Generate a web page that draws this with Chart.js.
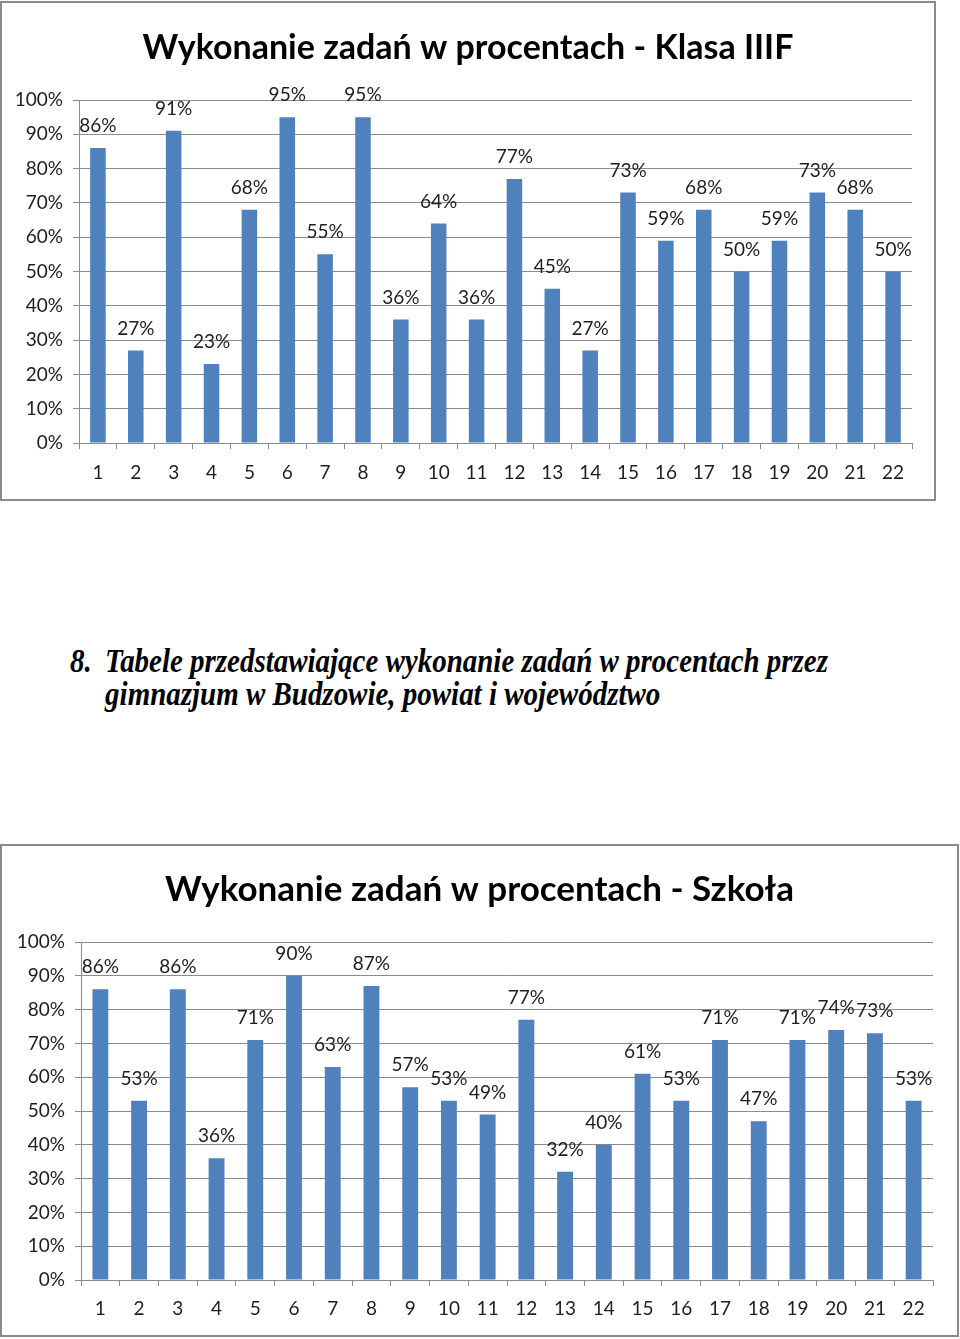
<!DOCTYPE html>
<html>
<head>
<meta charset="utf-8">
<script src="https://cdn.jsdelivr.net/npm/chart.js@4.4.1/dist/chart.umd.min.js"></script>
<style>
  body { margin: 0; background: #fff; width: 960px; height: 1339px; position: relative; overflow: hidden; }
  .box { position: absolute; border: 2px solid #8a8a8a; background: #fff; }
  .box canvas { display: block; }
  #opis { position: absolute; left: 70px; top: 645px; font-family: "Liberation Serif", "Times New Roman", serif;
          font-weight: bold; font-style: italic; font-size: 33px; line-height: 33px; color: #000; white-space: nowrap; }
  #opis .line { display: block; transform-origin: left center; }
  #opis .num { display: inline-block; width: 40px; }
</style>
</head>
<body>

<div class="box" style="left:0px; top:1px;">
  <canvas id="klasaChart" width="932" height="496"></canvas>
</div>

<div id="opis">
  <span class="line" id="l1"><span class="num">8.</span>Tabele przedstawiające wykonanie zadań w procentach przez</span>
  <span class="line" id="l2"><span class="num"></span>gimnazjum w Budzowie, powiat i województwo</span>
</div>

<div class="box" style="left:0px; top:844px;">
  <canvas id="szkolaChart" width="955" height="489"></canvas>
</div>

<script>
const zadania = ['1','2','3','4','5','6','7','8','9','10','11','12','13','14','15','16','17','18','19','20','21','22'];
const wynikiKlasa = [86, 27, 91, 23, 68, 95, 55, 95, 36, 64, 36, 77, 45, 27, 73, 59, 68, 50, 59, 73, 68, 50];
const wynikiSzkola = [86, 53, 86, 36, 71, 90, 63, 87, 57, 53, 49, 77, 32, 40, 61, 53, 71, 47, 71, 74, 73, 53];
const tytulKlasa = 'Wykonanie zadań w procentach - Klasa IIIF';
const tytulSzkola = 'Wykonanie zadań w procentach - Szkoła';

const kolorSlupka = '#4f81bd';
const kolorSiatki = '#8c8c8c';
const kolorTekstu = '#1e1e1e';

// etykiety z wartoscia nad slupkami
const etykietyWartosci = {
  id: 'etykietyWartosci',
  afterDatasetsDraw(chart) {
    const ctx = chart.ctx;
    const meta = chart.getDatasetMeta(0);
    ctx.save();
    ctx.font = '19px Lato';
    ctx.fillStyle = kolorTekstu;
    ctx.textAlign = 'center';
    ctx.textBaseline = 'middle';
    meta.data.forEach((bar, i) => {
      ctx.fillText(chart.data.datasets[0].data[i] + '%', bar.x, bar.y - 22);
    });
    ctx.restore();
  }
};

// tytul wysrodkowany na calym plotnie (jak w Excelu)
const tytulWykresu = {
  id: 'tytulWykresu',
  afterDraw(chart, args, opts) {
    const ctx = chart.ctx;
    ctx.save();
    ctx.font = 'bold ' + opts.size + 'px Lato';
    ctx.fillStyle = '#000';
    ctx.textAlign = 'center';
    ctx.textBaseline = 'middle';
    ctx.fillText(opts.text, chart.width / 2, opts.y);
    ctx.restore();
  }
};

function rysuj_wykres(id, tytul, dane, cfg) {
  const canvas = document.getElementById(id).getContext('2d');
  new Chart(canvas, {
    type: 'bar',
    data: {
      labels: zadania,
      datasets: [{
        data: dane,
        backgroundColor: kolorSlupka,
        borderWidth: 0,
        barPercentage: 0.41,
        categoryPercentage: 1.0
      }]
    },
    options: {
      responsive: false,
      animation: false,
      layout: { padding: { left: 0, right: cfg.prawo, top: cfg.gora, bottom: 0 } },
      plugins: {
        legend: { display: false },
        tooltip: { enabled: false },
        title: { display: false },
        tytulWykresu: { text: tytul, size: cfg.rozmiarTytulu, y: cfg.tytulY }
      },
      scales: {
        x: {
          offset: true,
          grid: { offset: true, drawOnChartArea: false, drawTicks: true, tickLength: 6, color: kolorSiatki },
          border: { display: true, color: kolorSiatki },
          ticks: { color: kolorTekstu, font: { family: 'Lato', size: 19 }, padding: cfg.odstepX, maxRotation: 0, autoSkip: false },
          afterFit: function (scale) { scale.height = cfg.wysOsiX; }
        },
        y: {
          min: 0,
          max: 100,
          ticks: {
            stepSize: 10,
            color: kolorTekstu,
            font: { family: 'Lato', size: 19 },
            padding: 10,
            callback: function (v) { return v + '%'; }
          },
          grid: { color: kolorSiatki, tickLength: 6 },
          border: { display: true, color: kolorSiatki },
          afterFit: function (scale) { scale.width = cfg.szerOsiY; }
        }
      }
    },
    plugins: [etykietyWartosci, tytulWykresu]
  });
}

rysuj_wykres('klasaChart', tytulKlasa, wynikiKlasa,
  { szerOsiY: 77, wysOsiX: 56, prawo: 22, gora: 97, odstepX: 12, rozmiarTytulu: 34, tytulY: 45 });
rysuj_wykres('szkolaChart', tytulSzkola, wynikiSzkola,
  { szerOsiY: 79, wysOsiX: 55, prawo: 24, gora: 96, odstepX: 11, rozmiarTytulu: 35, tytulY: 44 });

// dopasowanie szerokosci tekstu
const l1 = document.getElementById('l1');
const l2 = document.getElementById('l2');
const skala = (828 - 70) / l1.getBoundingClientRect().width;
l1.style.transform = 'scaleX(' + skala + ')';
l2.style.transform = 'scaleX(' + skala + ')';
</script>
</body>
</html>
